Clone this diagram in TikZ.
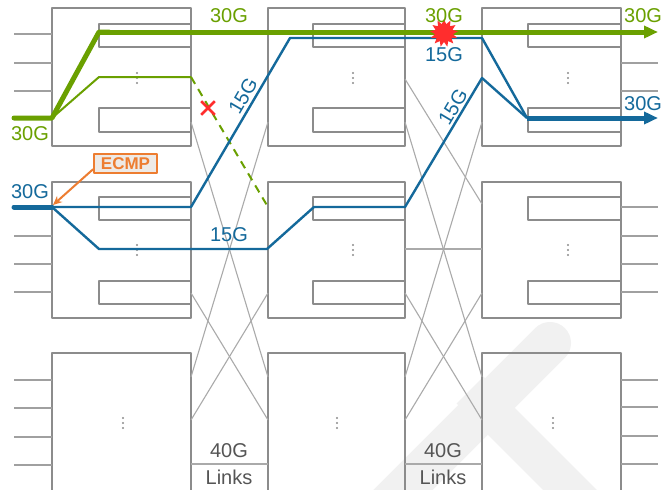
\documentclass[tikz,border=0pt]{standalone}
\usepackage{fontspec}
\setmainfont{Liberation Sans}
\usetikzlibrary{arrows.meta,shapes.geometric,shapes.misc}
\definecolor{gr}{RGB}{106,160,0}
\definecolor{bl}{RGB}{20,105,155}
\definecolor{boxgray}{RGB}{140,140,140}
\definecolor{linkgray}{RGB}{170,170,170}
\definecolor{portgray}{RGB}{160,160,160}
\definecolor{ecmpc}{RGB}{237,125,49}
\definecolor{ecmpfill}{RGB}{238,234,230}
\definecolor{wm}{RGB}{241,241,241}
\definecolor{txtgray}{RGB}{85,85,85}
\definecolor{burst}{RGB}{255,45,45}
\begin{document}
\begin{tikzpicture}[x=1pt,y=-1pt,line join=round,
  box/.style={draw=boxgray,line width=2pt,inner sep=0,outer sep=0,anchor=north west},
  portbox/.style={draw=boxgray,line width=2pt,inner sep=0,outer sep=0,anchor=north east,minimum width=92pt,minimum height=23pt},
  portline/.style={draw=portgray,line width=1.2pt},
  link/.style={draw=linkgray,line width=1.1pt},
  lbl/.style={font=\fontsize{20}{20}\selectfont,inner sep=0},
  vdts/.style={inner sep=0,minimum width=3pt,minimum height=14pt,
    path picture={\fill[boxgray] ([yshift=5pt]path picture bounding box.center) circle (1.1pt)
      (path picture bounding box.center) circle (1.1pt)
      ([yshift=-5pt]path picture bounding box.center) circle (1.1pt);}},
  gthick/.style={draw=gr,line width=5pt},
  gthin/.style={draw=gr,line width=2pt},
  bthick/.style={draw=bl,line width=5pt},
  bthin/.style={draw=bl,line width=2.4pt},
  tip/.style={-{Triangle[length=14pt,width=12pt]}}]
\useasboundingbox (0,0) rectangle (662,490);
\clip (0,0) rectangle (662,490);
\fill[white] (0,0) rectangle (662,490);
% watermark
\draw[wm,line width=42pt,line cap=round] (360,533) -- (550,343);
\draw[wm,line width=38pt] (470,390) -- (600,520);
% boxes
\node[box,minimum width=139pt,minimum height=138pt] (TL) at (52,8) {};
\node[box,minimum width=137pt,minimum height=138pt] (TM) at (268,8) {};
\node[box,minimum width=139pt,minimum height=138pt] (TR) at (482,8) {};
\node[box,minimum width=139pt,minimum height=136pt] (ML) at (52,182) {};
\node[box,minimum width=137pt,minimum height=136pt] (MM) at (268,182) {};
\node[box,minimum width=139pt,minimum height=136pt] (MR) at (482,182) {};
\node[box,minimum width=139pt,minimum height=160pt] (BL) at (52,353) {};
\node[box,minimum width=137pt,minimum height=160pt] (BM) at (268,353) {};
\node[box,minimum width=139pt,minimum height=160pt] (BR) at (482,353) {};
% inner port blocks
\node[portbox] (TLa) at (191,24) {};
\node[portbox,minimum height=24pt] (TLb) at (191,108) {};
\node[portbox] (TMa) at (405,24) {};
\node[portbox,minimum height=24pt] (TMb) at (405,108) {};
\node[portbox,minimum width=93pt] (TRa) at (621,24) {};
\node[portbox,minimum width=93pt,minimum height=24pt] (TRb) at (621,108) {};
\node[portbox] (MLa) at (191,197) {};
\node[portbox] (MLb) at (191,281) {};
\node[portbox] (MMa) at (405,197) {};
\node[portbox] (MMb) at (405,281) {};
\node[portbox,minimum width=93pt] (MRa) at (621,197) {};
\node[portbox,minimum width=93pt] (MRb) at (621,281) {};
% dots
\node[vdts] (dTL) at (137,78) {};
\node[vdts] (dTM) at (353,78) {};
\node[vdts] (dTR) at (568,78) {};
\node[vdts] (dML) at (137,250) {};
\node[vdts] (dMM) at (353,250) {};
\node[vdts] (dMR) at (568,250) {};
\node[vdts] (dBL) at (123,423) {};
\node[vdts] (dBM) at (337,423) {};
\node[vdts] (dBR) at (553,423) {};
% external port lines
\foreach \y [count=\i] in {34,63,91} {\coordinate (pTL\i) at (14,\y); \draw[portline] (pTL\i) -- (pTL\i -| TL.west);}
\foreach \y [count=\i] in {236,264,292} {\coordinate (pML\i) at (14,\y); \draw[portline] (pML\i) -- (pML\i -| ML.west);}
\foreach \y [count=\i] in {380,408,437,465} {\coordinate (pBL\i) at (14,\y); \draw[portline] (pBL\i) -- (pBL\i -| BL.west);}
\foreach \y [count=\i] in {63,91} {\coordinate (pTR\i) at (658,\y); \draw[portline] (pTR\i -| TR.east) -- (pTR\i);}
\foreach \y [count=\i] in {207,236,264,292} {\coordinate (pMR\i) at (658,\y); \draw[portline] (pMR\i -| MR.east) -- (pMR\i);}
\foreach \y [count=\i] in {380,407,436,464} {\coordinate (pBR\i) at (658,\y); \draw[portline] (pBR\i -| BR.east) -- (pBR\i);}
% links, left gap
\coordinate (a1) at (191,122); \coordinate (a2) at (268,377);
\coordinate (a3) at (268,122); \coordinate (a4) at (191,377);
\coordinate (a5) at (191,293); \coordinate (a6) at (268,420);
\coordinate (a7) at (268,293); \coordinate (a8) at (191,420);
\coordinate (a9) at (191,464); \coordinate (a10) at (268,464);
\draw[link] (a1) -- (a2);
\draw[link] (a3) -- (a4);
\draw[link] (a5) -- (a6);
\draw[link] (a7) -- (a8);
\draw[link] (a9) -- (a10);
% links, right gap
\coordinate (b1) at (405,122); \coordinate (b2) at (482,377);
\coordinate (b3) at (482,122); \coordinate (b4) at (405,377);
\coordinate (b5) at (405,293); \coordinate (b6) at (482,420);
\coordinate (b7) at (482,293); \coordinate (b8) at (405,420);
\coordinate (b9) at (405,464); \coordinate (b10) at (482,464);
\coordinate (b11) at (405,79); \coordinate (b12) at (482,204);
\coordinate (b13) at (405,249); \coordinate (b14) at (482,249);
\draw[link] (b1) -- (b2);
\draw[link] (b3) -- (b4);
\draw[link] (b5) -- (b6);
\draw[link] (b7) -- (b8);
\draw[link] (b9) -- (b10);
\draw[link] (b11) -- (b12);
\draw[link] (b13) -- (b14);
% path points
\coordinate (gin) at (14,118);
\coordinate (gs) at (52,118);
\coordinate (g1) at (99,32);
\coordinate (gout) at (658,32);
\coordinate (g2) at (99,77);
\coordinate (g3) at (191,77);
\coordinate (g4) at (268,207);
\coordinate (bin) at (14,207);
\coordinate (bs) at (52,207);
\coordinate (c1) at (191,207);
\coordinate (c2) at (290,38);
\coordinate (c3) at (482,38);
\coordinate (bj) at (527,118);
\coordinate (bout) at (658,118);
\coordinate (d1) at (99,249);
\coordinate (d2) at (267,249);
\coordinate (d3) at (314,207);
\coordinate (d4) at (405,207);
\coordinate (d5) at (482,78);
% green dashed failed link
\draw[gr,line width=2pt,dash pattern=on 8pt off 6pt] (g3) -- (g4);
\draw[gthin] (gs) -- (g2) -- (g3);
% blue paths
\draw[bthin] (bs) -- (c1) -- (c2) -- (c3) -- (bj);
\draw[bthin] (bs) -- (d1) -- (d2) -- (d3) -- (d4) -- (d5) -- (bj);
\draw[bthick,line cap=round] (bin) -- (bs);
\draw[bthick,tip] (bj) -- (bout);
% green thick
\draw[gthick,line cap=round] (gin) -- (gs) -- (g1) -- ++(10,0);
\draw[gthick,tip] (g1) -- (gout);
% failure marks
\node[cross out,draw=burst,line width=2.6pt,minimum size=11pt,inner sep=0] (xx) at (208,108) {};
\node[star,star points=13,star point ratio=1.55,fill=burst,minimum size=28pt,inner sep=0] (bang) at (444,33) {};
% labels
\node[lbl,text=gr] (lg1) at (229,16) {30G};
\node[lbl,text=gr] (lg2) at (444,16) {30G};
\node[lbl,text=gr,anchor=west] (lg3) at (624,16) {30G};
\node[lbl,text=gr] (lg4) at (30,134) {30G};
\node[lbl,text=bl] (lb1) at (30,192) {30G};
\node[lbl,text=bl,anchor=west] (lb2) at (624,104) {30G};
\node[lbl,text=bl] (lb3) at (444,55) {15G};
\node[lbl,text=bl] (lb4) at (229,235) {15G};
\node[lbl,text=bl,rotate=59.6] (lb5) at (243,96) {15G};
\node[lbl,text=bl,rotate=59.2] (lb6) at (453,107) {15G};
\node[lbl,text=txtgray] (k1) at (229,451) {40G};
\node[lbl,text=txtgray] (k2) at (229,477) {Links};
\node[lbl,text=txtgray] (k3) at (443,451) {40G};
\node[lbl,text=txtgray] (k4) at (443,477) {Links};
% ECMP
\node[draw=ecmpc,fill=ecmpfill,line width=1.8pt,text=ecmpc,font=\bfseries\fontsize{17}{17}\selectfont,inner xsep=3pt,inner ysep=1.5pt,minimum width=63pt,minimum height=19pt] (ecmp) at (125.5,163.5) {ECMP};
\coordinate (ecmpT) at (53,205);
\draw[ecmpc,line width=2pt,-{Stealth[length=9pt,width=8pt]}] (ecmp.190) -- (ecmpT);
\end{tikzpicture}
\end{document}
